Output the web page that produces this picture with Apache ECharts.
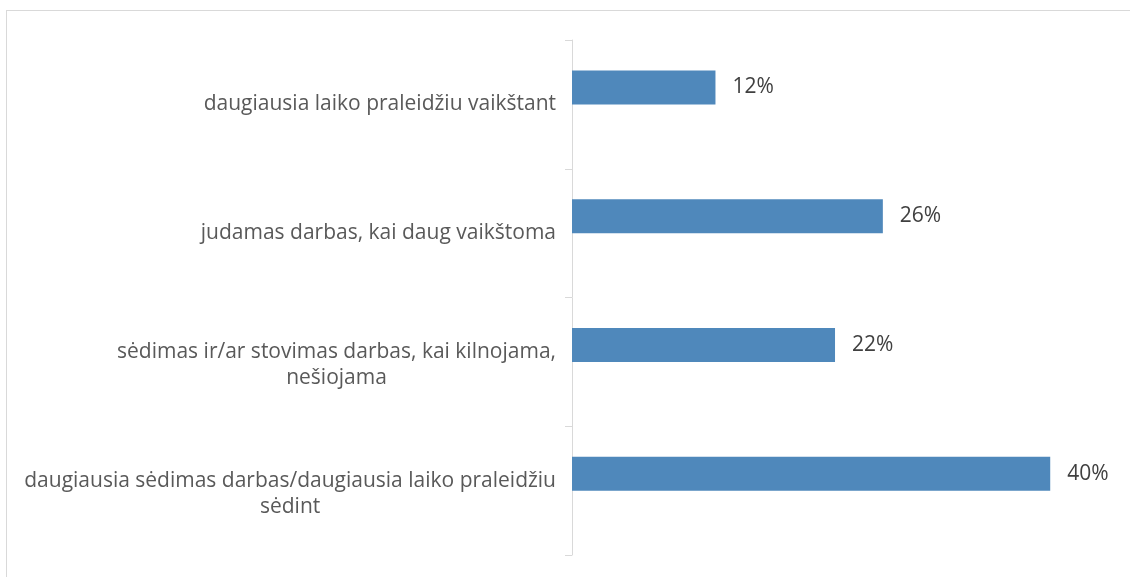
<!DOCTYPE html>
<html>
<head>
<meta charset="utf-8">
<script src="https://cdn.jsdelivr.net/npm/echarts@6/dist/echarts.min.js"></script>
<style>
  html, body { margin: 0; padding: 0; background: #fff; }
  #frame { position: absolute; left: 6px; top: 10px; width: 1130px; height: 580px;
    border-left: 1px solid #d9d9d9; border-top: 1px solid #d9d9d9; }
  #chart { position: absolute; left: 0; top: 0; width: 1130px; height: 577px; }
</style>
</head>
<body>
<div id="frame"></div>
<div id="chart"></div>
<script>
"use strict";

// top → bottom
const categories = [
  "daugiausia laiko praleidžiu vaikštant",
  "judamas darbas, kai daug vaikštoma",
  "sėdimas ir/ar stovimas darbas, kai kilnojama,\nnešiojama",
  "daugiausia sėdimas darbas/daugiausia laiko praleidžiu\nsėdint",
];
const shares = [12, 26, 22, 40];
// antra (tuščia) serija — Excel palieka vietą po stulpeliu
const emptySeries = [null, null, null, null];

const FONT = "'Open Sans', sans-serif";
const FS = 21;

// eilutės centruojamos bloko viduje; dviejų eilučių blokas šiek tiek žemiau
function labelFmt(v) {
  const lines = v.split("\n").map(l => "{c|" + l + "}");
  if (lines.length === 1) return lines[0];
  return "{s| }\n" + lines.join("\n");
}

const labelStyle = { align: "center", fontFamily: FONT, fontSize: FS, color: "#595959", lineHeight: 26 };

const chart = echarts.init(document.getElementById("chart"), null, { renderer: "canvas" });
chart.setOption({
  animation: false,
  grid: { left: 572, right: 20, top: 40, bottom: 22 },
  xAxis: { type: "value", min: 0, max: 45, show: false },
  yAxis: {
    type: "category",
    inverse: true,
    data: categories,
    axisLine: { show: true, lineStyle: { color: "#d9d9d9", width: 1 } },
    axisTick: { show: true, length: 7, lineStyle: { color: "#d9d9d9" } },
    axisLabel: {
      margin: 16,
      fontFamily: FONT,
      fontSize: FS,
      color: "#595959",
      lineHeight: 26,
      formatter: labelFmt,
      rich: {
        c: labelStyle,
        s: { fontSize: 4, lineHeight: 7 },
      },
    },
  },
  series: [
    {
      type: "bar",
      data: shares,
      barWidth: 34,
      barGap: "0%",
      itemStyle: { color: "#4f88bb" },
      label: {
        show: true, position: "right", distance: 17,
        fontFamily: FONT, fontSize: FS, color: "#404040",
        formatter: p => p.value + "%",
      },
    },
    { type: "bar", data: emptySeries, barWidth: 34, barGap: "0%" },
  ],
});
</script>
</body>
</html>
